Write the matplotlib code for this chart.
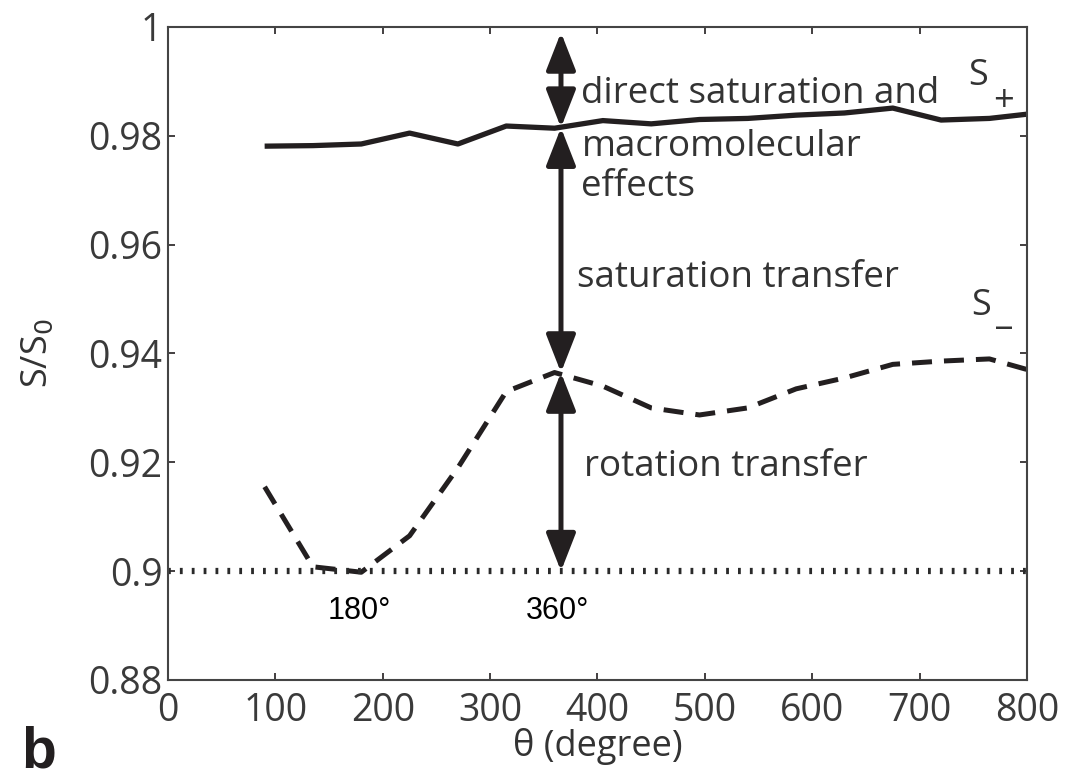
import matplotlib
matplotlib.use("Agg")
import matplotlib.pyplot as plt

# ---- data ----
theta = [90, 135, 180, 225, 270, 315, 360, 405, 450, 495, 540, 585, 630, 675, 720, 765, 810]
s_plus = [0.9781, 0.9782, 0.9785, 0.9805, 0.9785, 0.9818, 0.9814, 0.9828, 0.9822,
          0.9830, 0.9832, 0.9838, 0.9842, 0.9851, 0.9829, 0.9832, 0.9842]
s_minus = [0.9155, 0.9008, 0.8998, 0.9065, 0.9190, 0.9330, 0.9365, 0.9340, 0.9300,
           0.9287, 0.9300, 0.9335, 0.9355, 0.9380, 0.9386, 0.9390, 0.9365]
baseline = 0.9
arrow_x = 366
arrow_levels = [0.9990, 0.9815, 0.9365, 0.9]
xticks = [0, 100, 200, 300, 400, 500, 600, 700, 800]
yticks = [0.88, 0.9, 0.92, 0.94, 0.96, 0.98, 1.0]
ytick_labels = ["0.88", "0.9", "0.92", "0.94", "0.96", "0.98", "1"]

INK = "#231f20"
FONT = "Open Sans"

fig = plt.figure(figsize=(10.66, 7.78), dpi=100)
ax = fig.add_axes([0.1576, 0.126, 0.9634 - 0.1576, 0.9653 - 0.126])

ax.plot(theta, s_plus, color=INK, lw=3.8, solid_capstyle="butt")
ax.plot(theta, s_minus, color=INK, lw=3.6, linestyle=(0, (4, 2.4)), dash_capstyle="butt")
ax.axhline(baseline, color="#2a2a2a", lw=4.5, linestyle=(0, (0.45, 1.45)),
           dash_capstyle="butt")

ax.set_xlim(0, 800)
ax.set_ylim(0.88, 1.0)
ax.set_xticks(xticks)
ax.set_xticklabels([str(v) for v in xticks])
ax.set_yticks(yticks)
ax.set_yticklabels(ytick_labels)
ax.tick_params(direction="in", length=5, width=1.2, top=True, right=True,
               labelsize=27, colors=INK, pad=4)
ax.tick_params(axis="x", pad=9)
for lab in ax.get_xticklabels() + ax.get_yticklabels():
    lab.set_fontfamily(FONT)
    lab.set_color("#3a3a3a")
for sp in ax.spines.values():
    sp.set_linewidth(1.5)
    sp.set_color("#444444")

# arrows
for y1, y2 in zip(arrow_levels[:-1], arrow_levels[1:]):
    ax.annotate("", xy=(arrow_x, y1), xytext=(arrow_x, y2),
                arrowprops=dict(arrowstyle="<|-|>,head_length=1.15,head_width=0.45",
                                lw=3.6, color=INK, shrinkA=0, shrinkB=0,
                                mutation_scale=20))

tkw = dict(fontfamily=FONT, fontsize=26.5, color="#333333", va="baseline", ha="left")
ax.text(385, 0.98603, "direct saturation and", **tkw)
ax.text(385, 0.97630, "macromolecular", **tkw)
ax.text(385, 0.96895, "effects", **tkw)
ax.text(381, 0.95222, "saturation transfer", **tkw)
ax.text(387, 0.91749, "rotation transfer", **tkw)

skw = dict(fontfamily=FONT, fontsize=26, color="#333333", va="center", ha="left")
ax.text(745, 0.99100, "S", **skw)
ax.text(768, 0.98620, "+", **skw)
ax.text(748, 0.94880, "S", **skw)
ax.text(771, 0.94700, "_", **skw)

akw = dict(fontfamily="Liberation Sans", fontsize=22, color="black", ha="center", va="center")
ax.text(178, 0.8927, "180°", **akw)
ax.text(363, 0.8927, "360°", **akw)

ax.set_xlabel("θ (degree)", fontfamily=FONT, fontsize=26, color="#333333")
ax.xaxis.set_label_coords(0.5, -0.073)
ax.set_ylabel("S/S$_0$", fontfamily=FONT, fontsize=26, color="#333333")
ax.yaxis.set_label_coords(-0.13, 0.5)
fig.text(0.02, 0.0129, "b", fontfamily="Liberation Sans", fontweight="bold",
         fontsize=41, color=INK, ha="left", va="baseline")

fig.savefig("out.png", dpi=100)
